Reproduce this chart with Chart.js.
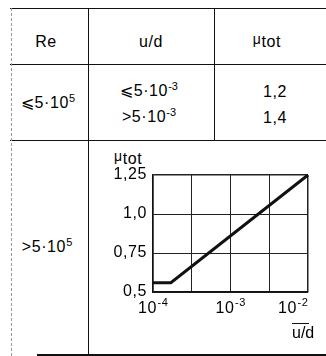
<!DOCTYPE html>
<html>
<head>
<meta charset="utf-8">
<script src="https://cdn.jsdelivr.net/npm/chart.js@4/dist/chart.umd.min.js"></script>
<style>
  html, body { margin: 0; padding: 0; background: #fff; }
  body { width: 326px; height: 356px; position: relative; overflow: hidden;
         font-family: "Liberation Sans", Arial, sans-serif; font-size: 16px; color: #000;
         letter-spacing: 0.6px; }
  .ln { position: absolute; background: #111; }
  .t { position: absolute; width: 120px; text-align: center; line-height: 18px; white-space: nowrap; }
  sup { font-size: 11px; vertical-align: 6px; line-height: 0; letter-spacing: 0; }
  .mu { font-size: 14px; position: relative; top: -3px; }
  #wrap { position: absolute; left: 95px; top: 150px; width: 227px; height: 205px; }
  #xtitle { position: absolute; left: 292px; top: 323px; width: 17px; text-align: right;
            border-top: 1px solid #111; line-height: 17px; letter-spacing: 0; }
  #ytitle { position: absolute; left: 114px; top: 150px; line-height: 18px; }
</style>
</head>
<body>
<!-- table frame -->
<div class="ln" style="left:10px;top:8px;width:316px;height:1px"></div>
<div class="ln" style="left:10px;top:64px;width:316px;height:1px"></div>
<div class="ln" style="left:10px;top:140px;width:316px;height:1px"></div>
<div class="ln" style="left:37px;top:354px;width:289px;height:2px"></div>
<div style="position:absolute;left:11px;top:8px;height:348px;border-left:1px dashed #999"></div>
<div class="ln" style="left:88px;top:8px;width:1px;height:348px"></div>
<div class="ln" style="left:214px;top:8px;width:1px;height:132px"></div>

<!-- table text -->
<div class="t" style="left:-14px;top:33px">Re</div>
<div class="t" style="left:91px;top:33px">u/d</div>
<div class="t" style="left:207px;top:33px"><span class="mu">μ</span>tot</div>

<div class="t" style="left:-12px;top:94px">⩽5·10<sup>5</sup></div>
<div class="t" style="left:89px;top:82px">⩽5·10<sup>-3</sup></div>
<div class="t" style="left:89px;top:108px">&gt;5·10<sup>-3</sup></div>
<div class="t" style="left:215px;top:83px">1,2</div>
<div class="t" style="left:215px;top:109px">1,4</div>

<div class="t" style="left:-13px;top:238px">&gt;5·10<sup>5</sup></div>

<div id="ytitle"><span class="mu">μ</span>tot</div>
<div id="wrap"><canvas id="c"></canvas></div>
<div id="xtitle">u/d</div>

<script>
const xValues = [1e-4, 1.7e-4, 1e-2];
const muValues = [0.56, 0.56, 1.25];
const xTicks = [1e-4, 3.1623e-4, 1e-3, 3.1623e-3, 1e-2];
const xDecades = [1e-4, 1e-3, 1e-2];
const xExponents = ['-4', '-3', '-2'];
const yTicks = [0.5, 0.75, 1.0, 1.25];
const yTickLabels = ['0,5', '0,75', '1,0', '1,25'];

// draws "10" with a raised exponent under each decade tick
const decadeLabels = {
  id: 'decadeLabels',
  afterDraw(chart) {
    const s = chart.scales.x;
    const c = chart.ctx;
    const y = chart.chartArea.bottom + 21;
    c.save();
    c.fillStyle = '#000';
    c.textBaseline = 'alphabetic';
    xDecades.forEach((v, i) => {
      c.font = '16px "Liberation Sans"';
      const w1 = c.measureText('10').width;
      c.font = '11px "Liberation Sans"';
      const w2 = c.measureText(xExponents[i]).width;
      const px = s.getPixelForValue(v);
      let left = px - (w1 + w2) / 2;
      if (i === xDecades.length - 1) left = px - (w1 + w2);
      c.font = '16px "Liberation Sans"';
      c.textAlign = 'left';
      c.fillText('10', left, y);
      c.font = '11px "Liberation Sans"';
      c.fillText(xExponents[i], left + w1 + 0.5, y - 7);
    });
    c.restore();
  },
};

const ctx = document.getElementById('c').getContext('2d');
new Chart(ctx, {
  type: 'line',
  data: {
    datasets: [{
      data: xValues.map((x, i) => ({ x: x, y: muValues[i] })),
      borderColor: '#111',
      borderWidth: 3,
      pointRadius: 0,
      tension: 0,
      clip: false,
    }],
  },
  options: {
    responsive: true,
    maintainAspectRatio: false,
    animation: false,
    layout: { padding: { top: 25, right: 14, left: 0, bottom: 0 } },
    plugins: { legend: { display: false }, tooltip: { enabled: false } },
    scales: {
      x: {
        type: 'logarithmic',
        min: 1e-4,
        max: 1e-2,
        afterBuildTicks: (s) => { s.ticks = xTicks.map(v => ({ value: v })); },
        afterFit: (s) => { s.height = 63; },
        grid: {
          color: '#222',
          lineWidth: (c) => (c.index === 0 || c.index === xTicks.length - 1 ? 1.5 : 1),
          drawTicks: false,
        },
        border: { color: '#111', width: 1.5 },
        ticks: { display: false, autoSkip: false },
      },
      y: {
        min: 0.5,
        max: 1.25,
        afterBuildTicks: (s) => { s.ticks = yTicks.map(v => ({ value: v })); },
        afterFit: (s) => { s.width = 58; },
        grid: {
          color: '#222',
          lineWidth: (c) => (c.index === yTicks.length - 1 ? 1.5 : 1),
          drawTicks: false,
        },
        border: { color: '#111', width: 1.5 },
        ticks: {
          padding: 6,
          color: '#000',
          font: { family: 'Liberation Sans', size: 16 },
          callback: (v, i) => yTickLabels[i],
        },
      },
    },
  },
  plugins: [decadeLabels],
});
</script>
</body>
</html>
